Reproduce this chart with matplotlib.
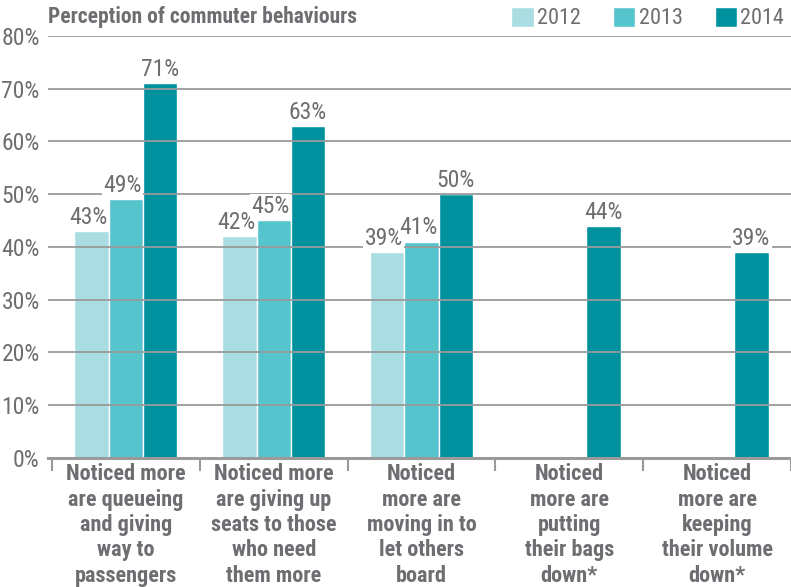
import matplotlib
matplotlib.use("Agg")
import matplotlib.pyplot as plt
import numpy as np
from matplotlib import font_manager

# Данные
categories = [
    "Noticed more\nare queueing\nand giving\nway to\npassengers",
    "Noticed more\nare giving up\nseats to those\nwho need\nthem more",
    "Noticed\nmore are\nmoving in to\nlet others\nboard",
    "Noticed\nmore are\nputting\ntheir bags\ndown*",
    "Noticed\nmore are\nkeeping\ntheir volume\ndown*",
]
years = ["2012", "2013", "2014"]
v2012 = [43, 42, 39, np.nan, np.nan]
v2013 = [49, 45, 41, np.nan, np.nan]
v2014 = [71, 63, 50, 44, 39]
yticks = [0, 10, 20, 30, 40, 50, 60, 70, 80]

colors = ["#a9dde2", "#55c4cd", "#00919e"]
text_col = "#6d6e71"
grid_col = "#9a9a9a"

# шрифт: узкий, если есть
names = {f.name for f in font_manager.fontManager.ttflist}
font = "DejaVu Sans"
for cand in ["Roboto Condensed", "Liberation Sans Narrow", "Open Sans Condensed",
             "Noto Sans Condensed", "DejaVu Sans Condensed"]:
    if cand in names:
        font = cand
        break
plt.rcParams["font.family"] = [font, "DejaVu Sans"]

fig = plt.figure(figsize=(7.91, 5.87), dpi=100)
ax = fig.add_axes([48 / 791, 129.3 / 587, 743 / 791, 421.7 / 587])

x = np.arange(len(categories))
w = 0.232
series = [v2012, v2013, v2014]
offsets = [-w, 0, w]
for vals, off, col, yr in zip(series, offsets, colors, years):
    ax.bar(x + off, vals, width=w, color=col, edgecolor="white", linewidth=1,
           label=yr, zorder=1)

# подписи значений
for vals, off, k in zip(series, offsets, range(3)):
    for i, v in enumerate(vals):
        if np.isnan(v):
            continue
        if k < 2:
            xp, ha = x[i] + off + w / 2 - 0.01, "right"
        else:
            xp, ha = x[i] + off, "center"
        ax.annotate(f"{v:.0f}%", (xp, v), xytext=(0, 1.5), textcoords="offset points",
                    ha=ha, va="bottom", fontsize=17, color=text_col,
                    zorder=4,
                    bbox=dict(boxstyle="square,pad=0.05", fc="white", ec="none"))

ax.set_ylim(0, 80)
ax.set_xlim(-0.527, 4.476)
ax.set_yticks(yticks)
ax.set_yticklabels([f"{t}%" for t in yticks])
ax.set_axisbelow(False)
ax.yaxis.grid(True, color=grid_col, linewidth=1.3)
ax.xaxis.grid(False)
for s in ["top", "right", "left"]:
    ax.spines[s].set_visible(False)
ax.spines["bottom"].set_color(grid_col)
ax.spines["bottom"].set_linewidth(2.2)

ax.tick_params(axis="y", length=0, pad=6, labelsize=17, labelcolor=text_col)
ax.set_xticks(x)
ax.set_xticklabels(categories, fontsize=16, color=text_col, fontweight="bold",
                   linespacing=1.2)
ax.tick_params(axis="x", length=0, pad=4)
ax.set_xticks(np.arange(-0.5, len(categories)), minor=True)
ax.tick_params(axis="x", which="minor", length=9, width=1.5, color=grid_col)

fig.text(48 / 791, 1 - 17 / 587, "Perception of commuter behaviours", ha="left",
         va="center", fontsize=15.5, color=text_col, fontweight="bold")

ax.legend(loc="lower right", bbox_to_anchor=(1.0, 1.0), ncol=3, frameon=False,
          handlelength=1.0, handleheight=1.0, handletextpad=0.15, columnspacing=1.45,
          borderaxespad=0.2, borderpad=0.1, fontsize=16, labelcolor=text_col)

fig.savefig("out.png", dpi=100)
